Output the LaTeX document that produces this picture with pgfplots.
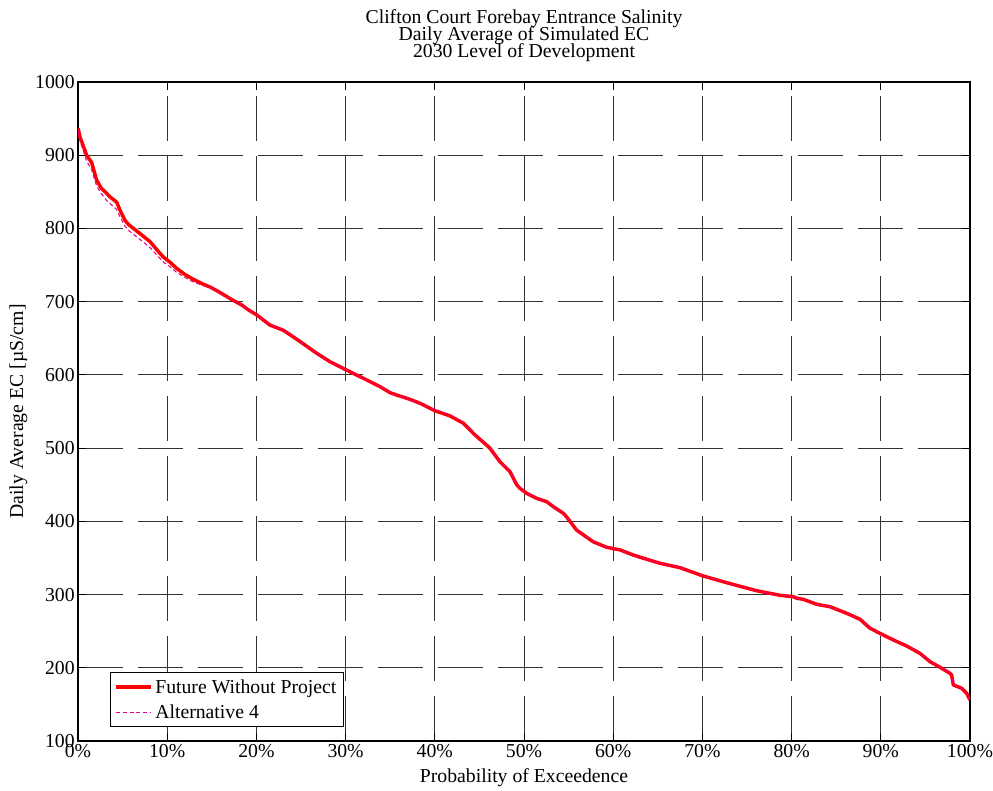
\documentclass[border=0pt]{standalone}
\usepackage{fontspec}
\setmainfont{Liberation Serif}
\usepackage{pgfplots}
\pgfplotsset{compat=1.18}
\usepackage{pgfplotstable}
\newcommand\titlefont{\fontsize{14.8}{13}\selectfont\lineskiplimit=-20pt\relax}
\pgfplotstableread{
x y
0 937
0.22 925
0.97 900
1.53 890
2.09 866
2.6 855
3.21 848
3.59 843
4.33 836
4.71 825
5.27 811
5.7 805
6.95 793
8.07 782
9.19 766
9.57 761
10.3 754
11.06 745.5
12.0 737
12.93 730.5
14.0 724
14.8 720
15.7 714
16.67 707
17.5 701
18.35 695.5
19.2 688
20.03 682
21.52 668
23.0 661
24.0 653
25.08 644
26.76 629.5
28.25 618
29.93 607.6
31.99 595.3
33.86 583.9
34.98 575.7
35.73 572.5
37.22 566.6
38.34 561.2
39.46 554.4
40.02 551
41.7 544
43.2 534
44.5 518
46.0 502
46.19 499.7
47.3 481.4
48.43 467.8
49.18 450
49.55 445
50.3 438.3
51.42 431.4
52.54 426.8
53.29 420
54.4 411
54.78 406
55.9 388
57.77 372
59.27 364.5
60.76 361
62.25 354
63.0 351
65.25 342.7
67.49 336.7
70.1 325.3
72.72 316.2
76.08 305.2
78.7 299
80.19 297
80.57 295
81.31 293.5
82.8 286.7
84.3 283.4
86.17 274.4
87.67 266.2
88.79 254
89.91 247
91.4 238
92.9 229.7
94.39 219.7
95.52 208.3
96.64 200.6
97.76 192.4
97.94 190
98.13 176.5
99.07 172
99.63 165
100 156
}\fwp
\pgfplotstableread{
x y
0 933
0.22 920
0.97 892
1.53 880
2.09 858
2.6 848
3.21 838
3.59 834
4.33 826
4.71 816
5.27 803
5.7 797
6.95 785
8.07 774
9.19 759
9.57 754
10.3 748
11.06 740
12.0 733
12.93 727
14.0 722
14.8 719
15.7 713.5
16.67 707
17.5 701
18.35 695.5
19.2 688
20.03 682
21.52 668
23.0 661
24.0 653
25.08 644
26.76 629.5
28.25 618
29.93 607.6
31.99 595.3
33.86 583.9
34.98 575.7
35.73 572.5
37.22 566.6
38.34 561.2
39.46 555
40.02 552.5
41.7 545.5
43.2 535
44.5 518
46.0 502
46.19 499.7
47.3 481.4
48.43 467.8
49.18 450
49.55 445
50.3 438.3
51.42 431.4
52.54 426.8
53.29 420
54.4 411
54.78 406
55.9 388
57.77 372
59.27 364.5
60.76 361
62.25 354
63.0 351
65.25 342.7
67.49 336.7
70.1 325.3
72.72 316.2
76.08 305.2
78.7 299
80.19 297
80.57 295
81.31 293.5
82.8 286.7
84.3 283.4
86.17 274.4
87.67 266.2
88.79 254
89.91 247
91.4 238
92.9 229.7
94.39 219.7
95.52 208.3
96.64 200.6
97.76 192.4
97.94 190
98.13 176.5
99.07 172
99.63 165
100 156
}\altfour
\begin{document}
\begin{tikzpicture}
\useasboundingbox (-58.5pt,-37.5pt) rectangle ++(744.75pt,593.25pt);
\begin{axis}[
  at={(0,0)}, anchor=south west,
  scale only axis,
  width=669pt, height=494.25pt,
  xmin=0, xmax=100, ymin=100, ymax=1000,
  xtick={0,10,...,100},
  xticklabels={0\%,10\%,20\%,30\%,40\%,50\%,60\%,70\%,80\%,90\%,100\%},
  ytick={100,200,...,1000},
  /pgf/number format/assume math mode=true,
  /pgf/number format/1000 sep={},
  tick label style={font=\fontsize{14.8}{16}\selectfont, black},
  xticklabel style={yshift=1pt},
  yticklabel style={xshift=1pt},
  label style={font=\fontsize{14.8}{16}\selectfont},
  title style={font=\titlefont, align=center, yshift=5.5pt},
  title={Clifton Court Forebay Entrance Salinity\\Daily Average of Simulated EC\\2030 Level of Development},
  xlabel={Probability of Exceedence},
  ylabel={Daily Average EC [µS/cm]},
  xlabel style={yshift=-1pt},
  ylabel style={yshift=-1pt},
  axis line style={black, line width=0.8pt},
  major tick length=6pt,
  tick style={black, line width=0.6pt},
  grid=major,
  major grid style={black!80, line width=0.65pt, dash pattern=on 34pt off 11pt},
  legend cell align=left,
  legend style={at={(0.036,0.021)}, anchor=south west, draw=black, line width=0.6pt,
    font=\fontsize{14.8}{16}\selectfont, row sep=3pt, inner xsep=3pt, inner ysep=3pt},
  legend image code/.code={\draw[#1] (0pt,0pt) -- (26pt,0pt);},
]
\addplot[red, line width=2.6pt, line join=round] table[x=x,y=y] {\fwp};
\addlegendentry{Future Without Project}
\addplot[magenta, line width=0.8pt, dash pattern=on 3pt off 2pt] table[x=x,y=y] {\altfour};
\addlegendentry{Alternative 4}
\end{axis}
\end{tikzpicture}
\end{document}
